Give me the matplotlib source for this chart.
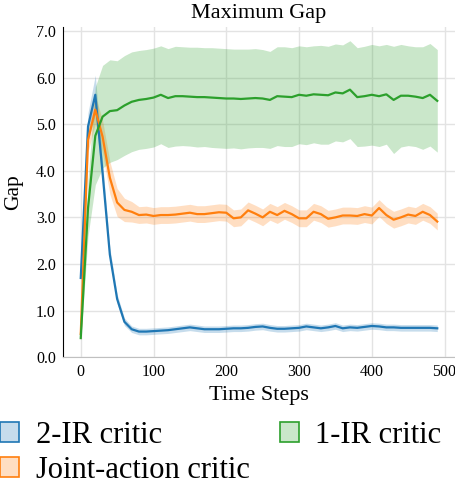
import numpy as np
import matplotlib
matplotlib.use("Agg")
from matplotlib import pyplot as plt
from matplotlib.patches import Patch

plt.rcParams["font.family"] = "serif"
plt.rcParams["font.serif"] = ["Liberation Serif", "DejaVu Serif"]

steps = list(range(0, 500, 10))

# 2-IR critic
blue_mean = [1.7, 4.95, 5.63, 3.95, 2.2, 1.25, 0.76, 0.6, 0.55, 0.55,
             0.56, 0.57, 0.58, 0.6, 0.62, 0.64, 0.62, 0.6, 0.6, 0.6,
             0.61, 0.62, 0.62, 0.63, 0.65, 0.66, 0.63, 0.61, 0.61, 0.62,
             0.63, 0.66, 0.64, 0.62, 0.64, 0.67, 0.62, 0.64, 0.63, 0.65,
             0.67, 0.66, 0.64, 0.64, 0.63, 0.63, 0.63, 0.63, 0.63, 0.62]
blue_std = [0.1, 0.3, 0.42, 0.25, 0.15, 0.1, 0.08] + [0.07] * 43

# Joint-action critic
orange_mean = [0.5, 4.66, 5.31, 4.73, 3.85, 3.32, 3.16, 3.12, 3.05, 3.06,
               3.03, 3.05, 3.05, 3.06, 3.08, 3.1, 3.07, 3.07, 3.09, 3.11,
               3.1, 2.98, 3.0, 3.15, 3.08, 3.0, 3.12, 3.05, 3.14, 3.07,
               2.98, 2.98, 3.12, 3.07, 2.97, 3.0, 3.04, 3.04, 3.03, 3.07,
               3.04, 3.2, 3.05, 2.95, 3.0, 3.06, 3.03, 3.12, 3.05, 2.91]
orange_std = [0.05, 0.25, 0.3, 0.35, 0.35, 0.3, 0.25, 0.22] + [0.18] * 42

# 1-IR critic
green_mean = [0.41, 3.2, 4.75, 5.16, 5.28, 5.3, 5.4, 5.48, 5.52, 5.54,
              5.57, 5.63, 5.56, 5.6, 5.6, 5.59, 5.58, 5.58, 5.57, 5.56,
              5.55, 5.55, 5.54, 5.55, 5.56, 5.55, 5.52, 5.6, 5.59, 5.58,
              5.63, 5.61, 5.64, 5.63, 5.62, 5.68, 5.66, 5.74, 5.58, 5.6,
              5.63, 5.6, 5.64, 5.52, 5.61, 5.61, 5.59, 5.56, 5.63, 5.5]
green_std = [0.05, 0.6, 1.05, 1.1, 1.1, 1.06, 1.07, 1.07, 1.06, 1.06,
             1.06, 1.05, 1.06, 1.07, 1.06, 1.06, 1.07, 1.06, 1.07, 1.07,
             1.07, 1.06, 1.07, 1.06, 1.06, 1.05, 1.04, 1.06, 1.07, 1.06,
             1.05, 1.05, 1.04, 1.06, 1.05, 1.04, 1.04, 1.05, 1.06, 1.07,
             1.08, 1.08, 1.07, 1.15, 1.1, 1.07, 1.07, 1.1, 1.1, 1.1]

labels = ["2-IR critic", "Joint-action critic", "1-IR critic"]
colors = ["#1f77b4", "#ff7f0e", "#2ca02c"]

fig = plt.figure(figsize=(4.56, 4.86), dpi=100)
ax = fig.add_axes([0.138, 0.265, 0.86, 0.68])

x = np.array(steps)
series = [(blue_mean, blue_std), (orange_mean, orange_std), (green_mean, green_std)]
for (m, s), c in zip(series, colors):
    m = np.array(m)
    s = np.array(s)
    ax.fill_between(x, m - s, m + s, color=c, alpha=0.25, lw=0)
    ax.plot(x, m, color=c, lw=1.6)

ax.set_xlim(-24.5, 514.5)
ax.set_ylim(0, 7.09)
ax.set_xticks(range(0, 501, 100))
ax.set_yticks(np.arange(0, 7.1, 1.0))
ax.set_yticklabels(["%.1f" % v for v in np.arange(0, 7.1, 1.0)])
ax.grid(True, color="#e3e3e3", lw=1)
ax.set_axisbelow(True)
ax.tick_params(length=0, labelsize=11.5, pad=5)
for side in ["top", "right"]:
    ax.spines[side].set_visible(False)
ax.spines["left"].set_color("black")
ax.spines["bottom"].set_color("#c0c0c0")

ax.set_title("Maximum Gap", fontsize=16, pad=6.5)
ax.set_xlabel("Time Steps", fontsize=16, labelpad=4)
ax.set_ylabel("Gap", fontsize=15.5, labelpad=9)

handles = [Patch(facecolor=matplotlib.colors.to_rgba(c, 0.25), edgecolor=c, lw=1.2) for c in colors]
fig.legend(handles, labels, loc="upper left", bbox_to_anchor=(0.0, 0.134),
           ncol=2, frameon=False, fontsize=22, handlelength=0.62, handleheight=0.62,
           handletextpad=0.55, columnspacing=0.98, labelspacing=0.2, borderpad=0,
           borderaxespad=0)

fig.savefig("out.png", dpi=100)
